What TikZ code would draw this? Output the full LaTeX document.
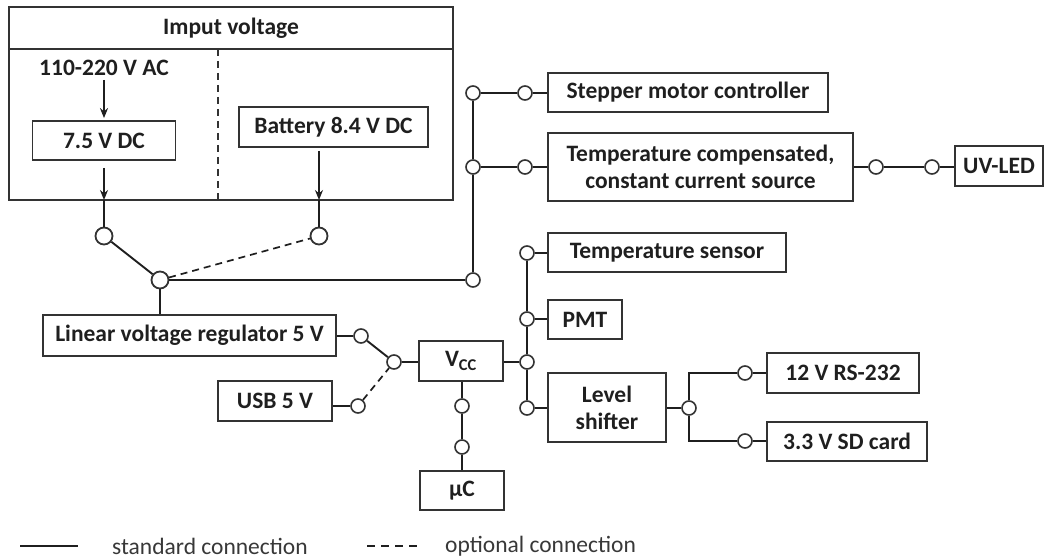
\documentclass[tikz,border=0pt]{standalone}
\usepackage{fontspec}
\setmainfont{Carlito}
\usetikzlibrary{arrows.meta}
\colorlet{ink}{black!88}
\colorlet{rim}{black!80}
\tikzset{
  blk/.style    ={draw=rim, line width=1.8pt, inner sep=2pt, align=center,
                  text=ink, font=\bfseries\fontsize{23.5}{27}\selectfont,
                  minimum height=39pt},
  caption/.style={text=ink, inner sep=0pt,
                  font=\bfseries\fontsize{23.5}{27}\selectfont},
  legtext/.style={text=black!78, inner sep=0pt, anchor=west,
                  font=\fontsize{23.5}{27}\selectfont},
  jn/.style     ={draw=rim, circle, fill=white, line width=1.6pt,
                  inner sep=0pt, minimum size=14pt},
  jnbig/.style  ={jn, line width=1.8pt, minimum size=17pt},
  wire/.style   ={ink, line width=2.8pt},
  wireM/.style  ={ink, line width=1.9pt},
  wireT/.style  ={ink, line width=1.3pt},
  optwire/.style={ink, line width=1.7pt, dash pattern=on 7pt off 5pt},
  feed/.style   ={-{Stealth[length=10pt,width=8pt]}, ink, line width=1.5pt},
}
\begin{document}
\begin{tikzpicture}[x=1pt, y=-1pt]
\useasboundingbox (0,0) rectangle (1047,559);

% input voltage block
\node[draw=rim, line width=2pt, minimum width=444pt, minimum height=193pt,
      inner sep=0pt] (inbox) at (231,103.5) {};
\draw[rim, line width=2pt] (inbox.west |- 0,49) -- (inbox.east |- 0,49);
\draw[rim, line width=1.5pt, dash pattern=on 7pt off 5pt] (218,49) -- (218,200);
\node[caption] (intitle) at (231,28) {Imput voltage};
\node[caption] (ac) at (104,68) {110-220 V AC};
\node[blk, minimum width=143pt] (dc) at (104,140.5) {7.5 V DC};
\node[blk, minimum width=189pt, minimum height=40pt] (batt) at (333.5,127)
  {Battery 8.4 V DC};
\coordinate (dcout) at (104,200);
\coordinate (battout) at (319,200);
\draw[feed, shorten <=4pt, shorten >=2pt] (ac) -- (dc);
\draw[feed, shorten <=7pt] (dc) -- (dcout);
\draw[feed, shorten <=3pt] (batt.south -| battout) -- (battout);

% source selector
\node[jnbig] (sA) at (104,236) {};
\node[jnbig] (sB) at (319,236) {};
\node[jnbig] (sC) at (160,280) {};
\draw[wire] (dcout) -- (sA);
\draw[wire] (battout) -- (sB);
\draw[wireM] (sA) -- (sC);
\draw[optwire] (sC) -- (sB);

% upper bus: motor and LED driver
\node[jn] (bT) at (473,93) {};
\node[jn] (bM) at (473,167) {};
\node[jn] (bB) at (473,280) {};
\node[jn] (cS) at (525,93) {};
\node[jn] (cT) at (525,167) {};
\node[blk, minimum width=280pt] (step) at (688,92.5) {Stepper motor controller};
\node[blk, minimum width=305pt, minimum height=68pt] (ccs) at (700.5,167)
  {Temperature compensated,\\ constant current source};
\node[jn] (cU1) at (876,167) {};
\node[jn] (cU2) at (932,167) {};
\node[blk, minimum width=88pt, minimum height=40pt] (led) at (999,166) {UV-LED};
\draw[wireM] (sC) -- (bB);
\draw[wireT] (bB) -- (bM);
\draw[wire] (bM) -- (bT);
\draw[wire] (bT) -- (cS);
\draw[wire] (bM) -- (cT);
\draw[wire] (cS) -- (step.west |- cS);
\draw[wire] (cT) -- (ccs);
\draw[wire] (ccs) -- (cU1);
\draw[wireT] (cU1) -- (cU2);
\draw[wire] (cU2) -- (led.west |- cU2);

% regulator, USB and Vcc
\node[blk, minimum width=293pt, minimum height=41pt] (reg) at (189.5,335.5)
  {Linear voltage regulator 5 V};
\node[blk, minimum width=114pt, minimum height=40pt] (usb) at (275,401) {USB 5 V};
\node[blk, minimum width=84pt, minimum height=40pt] (vcc) at (461,361) {V\textsubscript{CC}};
\node[blk, minimum width=84pt] (uc) at (462,490.5) {µC};
\node[jn] (rC) at (361,336) {};
\node[jn] (uC1) at (358,406) {};
\node[jn] (vS) at (394,362) {};
\node[jn] (vD1) at (462,406) {};
\node[jn] (vD2) at (462,447) {};
\draw[wire] (sC) -- (reg.north -| sC);
\draw[wire] (reg.east |- rC) -- (rC);
\draw[wireM] (rC) -- (vS);
\draw[wire] (usb.east |- uC1) -- (uC1);
\draw[optwire] (uC1) -- (vS);
\draw[wire] (vS) -- (vcc.west |- vS);
\draw[wire] (vcc.south -| vD1) -- (vD1);
\draw[wire] (vD1) -- (vD2);
\draw[wire] (vD2) -- (uc);

% lower bus: sensors and level shifter
\node[jn] (tS) at (527,253) {};
\node[jn] (tP) at (527,319) {};
\node[jn] (vR) at (527,362) {};
\node[jn] (tL) at (527,408) {};
\node[blk, minimum width=238pt] (sens) at (667,252.5) {Temperature sensor};
\node[blk, minimum width=74pt] (pmt) at (585,319.5) {PMT};
\node[blk, minimum width=118pt, minimum height=69pt] (lvl) at (607,407.5)
  {Level\\ shifter};
\node[jn] (lJ) at (689,408) {};
\node[jn] (lR) at (745,373) {};
\node[jn] (lD) at (745,441) {};
\node[blk, minimum width=152pt, minimum height=40pt] (rs) at (843,373) {12 V RS-232};
\node[blk, minimum width=160pt] (sd) at (847,441.5) {3.3 V SD card};
\draw[wire] (vcc.east |- vR) -- (vR);
\draw[wireT] (tS) -- (tP);
\draw[wireT] (tP) -- (vR);
\draw[wireT] (vR) -- (tL);
\draw[wire] (tS) -- (sens.west |- tS);
\draw[wire] (tP) -- (pmt.west |- tP);
\draw[wire] (tL) -- (lvl.west |- tL);
\draw[wire] (lvl.east |- lJ) -- (lJ);
\draw[wire] (lJ) |- (lR);
\draw[wire] (lJ) |- (lD);
\draw[wire] (lR) -- (rs.west |- lR);
\draw[wire] (lD) -- (sd.west |- lD);

% legend
\coordinate (lg1) at (20,546);
\coordinate (lg2) at (78,546);
\coordinate (lg3) at (367,546);
\coordinate (lg4) at (421,546);
\draw[wire] (lg1) -- (lg2);
\draw[optwire, line width=1.3pt, dash pattern=on 8pt off 6pt] (lg3) -- (lg4);
\node[legtext] (legstd) at (112,546) {standard connection};
\node[legtext] (legopt) at (445,546) {optional connection};

\end{tikzpicture}
\end{document}
